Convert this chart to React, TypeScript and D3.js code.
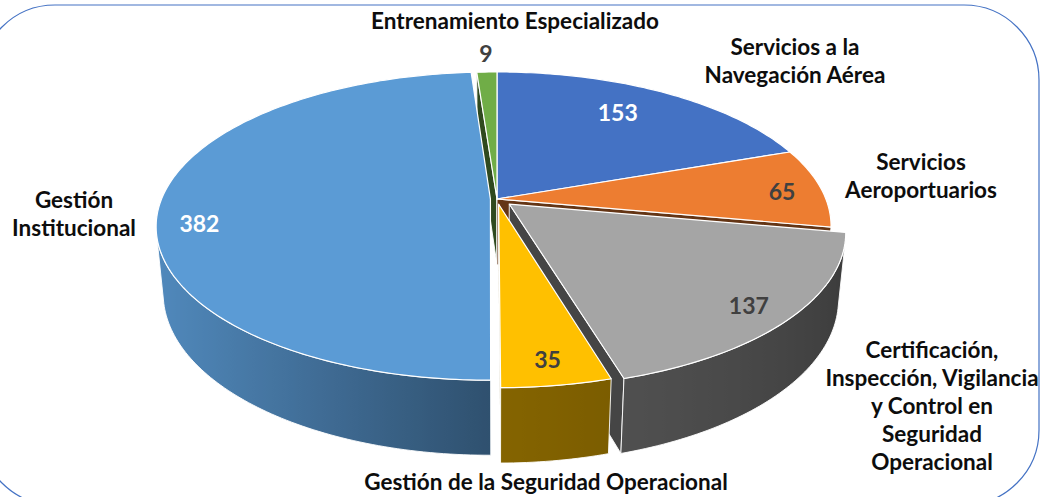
import React from 'react';
import * as d3 from 'd3';

// chart data
const categories = [
  'Servicios a la Navegación Aérea',
  'Servicios Aeroportuarios',
  'Certificación, Inspección, Vigilancia y Control en Seguridad Operacional',
  'Gestión de la Seguridad Operacional',
  'Gestión Institucional',
  'Entrenamiento Especializado',
];
const values = [153, 65, 137, 35, 382, 9];
const labelLines = [
  ['Servicios a la', 'Navegación Aérea'],
  ['Servicios', 'Aeroportuarios'],
  ['Certificación,', 'Inspección, Vigilancia', 'y Control en', 'Seguridad', 'Operacional'],
  ['Gestión de la Seguridad Operacional'],
  ['Gestión', 'Institucional'],
  ['Entrenamiento Especializado'],
];

// styling / layout
const colors = ['#4472C4', '#ED7D31', '#A5A5A5', '#FFC000', '#5B9BD5', '#70AD47'];
const valueColors = ['#ffffff', '#404040', '#404040', '#404040', '#ffffff', '#404040'];
const explode = [0, 0, 0.05, 0.035, 0.02, 0];
const valueRadius = [0.7, 0.88, 0.87, 0.865, 0.88, 1.1];
const valueDy = [-9, 2, 3, 2, 19, -8];
const catPos = [
  [795, 55],
  [921, 170],
  [932, 358],
  [546, 490],
  [74, 208],
  [515, 29],
];

const W = 1041;
const H = 497;
const CX = 497;
const CY = 199;
const TILT = (27 * Math.PI) / 180;
const DIST = 5.084;
const FOCAL = 1672;
const THICK = 0.229;
const cosT = Math.cos(TILT);
const sinT = Math.sin(TILT);
const CAM: [number, number, number] = [0, DIST * sinT, -DIST * cosT];

type P3 = [number, number, number];

const project = (p: P3): [number, number] => {
  const d = DIST + p[2] * cosT - p[1] * sinT;
  const up = p[1] * cosT + p[2] * sinT;
  return [CX + (FOCAL * p[0]) / d, CY - (FOCAL * up) / d];
};
const depth = (p: P3) => DIST + p[2] * cosT - p[1] * sinT;

const shade = (color: string, f: number) => {
  const c = d3.rgb(color);
  return d3.rgb(c.r * f, c.g * f, c.b * f).formatHex();
};

const wallFactor = (a: number) => {
  let deg = ((a * 180) / Math.PI) % 360;
  if (deg < 0) deg += 360;
  if (deg <= 180) return 0.52 - ((180 - deg) / 90) * 0.2;
  return 0.52 + 0.36 * Math.sin(Math.min(1, (deg - 180) / 77) * (Math.PI / 2));
};

const line2 = d3.line<[number, number]>();

export default function App() {
  const arcs = d3.pie<number>().sort(null).value((d) => d)(values);

  const faces: { key: string; d: string; fill: string; depth: number }[] = [];
  const tops: { key: string; d: string; fill: string }[] = [];
  const grads: { id: string; x1: number; x2: number; stops: { off: number; color: string }[] }[] = [];
  const valueLabels: { key: string; x: number; y: number; text: string; color: string }[] = [];

  arcs.forEach((arc, i) => {
    const a0 = arc.startAngle;
    const a1 = arc.endAngle;
    const mid = (a0 + a1) / 2;
    const ox = explode[i] * Math.sin(mid);
    const oz = explode[i] * Math.cos(mid);
    const rim = (a: number, y: number): P3 => [ox + Math.sin(a), y, oz + Math.cos(a)];
    const apex = (y: number): P3 => [ox, y, oz];
    const n = Math.max(2, Math.ceil((a1 - a0) / (Math.PI / 180)));
    const angles = d3.range(n + 1).map((k) => a0 + ((a1 - a0) * k) / n);

    // top face
    const topPts = [apex(0), ...angles.map((a) => rim(a, 0))].map(project);
    tops.push({ key: `top${i}`, d: line2(topPts) + 'Z', fill: colors[i] });

    // outer wall, front facing part only
    const vis = angles.map(
      (a) => -Math.sin(a) * ox - Math.cos(a) * oz - 1 - DIST * cosT * Math.cos(a) > 0
    );
    let run: number[] = [];
    const runs: number[][] = [];
    vis.forEach((v, k) => {
      if (v) run.push(angles[k]);
      else if (run.length) {
        runs.push(run);
        run = [];
      }
    });
    if (run.length) runs.push(run);
    runs
      .filter((r) => r.length > 1)
      .forEach((r, ri) => {
        const topRow = r.map((a) => project(rim(a, 0)));
        const botRow = r.map((a) => project(rim(a, -THICK))).reverse();
        const xs = topRow.map((p) => p[0]);
        const x1 = d3.min(xs) as number;
        const x2 = d3.max(xs) as number;
        const id = `wall${i}_${ri}`;
        const stops = r
          .map((a, k) => ({
            off: x2 > x1 ? (topRow[k][0] - x1) / (x2 - x1) : 0,
            color: shade(colors[i], wallFactor(a)),
          }))
          .sort((p, q) => p.off - q.off);
        grads.push({ id, x1, x2, stops });
        const dm = d3.mean(r, (a) => depth(rim(a, -THICK / 2))) as number;
        faces.push({ key: id, d: line2([...topRow, ...botRow]) + 'Z', fill: `url(#${id})`, depth: dm });
      });

    // cut faces
    const cuts: { a: number; nrm: P3 }[] = [
      { a: a0, nrm: [-Math.cos(a0), 0, Math.sin(a0)] },
      { a: a1, nrm: [Math.cos(a1), 0, -Math.sin(a1)] },
    ];
    cuts.forEach((c, ci) => {
      const pts: P3[] = [apex(0), rim(c.a, 0), rim(c.a, -THICK), apex(-THICK)];
      const cen: P3 = [
        d3.mean(pts, (p) => p[0]) as number,
        d3.mean(pts, (p) => p[1]) as number,
        d3.mean(pts, (p) => p[2]) as number,
      ];
      const dot =
        c.nrm[0] * (CAM[0] - cen[0]) + c.nrm[1] * (CAM[1] - cen[1]) + c.nrm[2] * (CAM[2] - cen[2]);
      if (dot <= 0) return;
      faces.push({
        key: `cut${i}_${ci}`,
        d: line2(pts.map(project)) + 'Z',
        fill: shade(colors[i], 0.42),
        depth: depth(cen),
      });
    });

    const lp = project([ox + valueRadius[i] * Math.sin(mid), 0, oz + valueRadius[i] * Math.cos(mid)]);
    valueLabels.push({ key: `v${i}`, x: lp[0], y: lp[1] + valueDy[i], text: String(values[i]), color: valueColors[i] });
  });

  faces.sort((a, b) => b.depth - a.depth);

  const font = "Lato, 'Open Sans', sans-serif";

  return (
    <svg width={W} height={H} style={{ position: 'absolute', left: 0, top: 0, background: '#fff' }}>
      <defs>
        {grads.map((g) => (
          <linearGradient key={g.id} id={g.id} gradientUnits="userSpaceOnUse" x1={g.x1} x2={g.x2} y1={0} y2={0}>
            {g.stops.map((s, k) => (
              <stop key={k} offset={s.off} stopColor={s.color} />
            ))}
          </linearGradient>
        ))}
      </defs>
      <rect x={-20} y={5} width={1059} height={500} rx={75} ry={75} fill="none" stroke="#4472C4" strokeWidth={1.2} />
      <g strokeLinejoin="round">
        {faces.map((f) => (
          <path key={f.key} d={f.d} fill={f.fill} stroke="#ffffff" strokeWidth={0.9} />
        ))}
        {tops.map((t) => (
          <path key={t.key} d={t.d} fill={t.fill} stroke="#ffffff" strokeWidth={1.2} />
        ))}
      </g>
      <g fontFamily={font} fontWeight={700} fontSize={23} textAnchor="middle">
        {valueLabels.map((v) => (
          <text key={v.key} x={v.x} y={v.y} fill={v.color} dominantBaseline="central">
            {v.text}
          </text>
        ))}
      </g>
      <g fontFamily={font} fontWeight={700} fontSize={22.5} textAnchor="middle" fill="#0d0d0d">
        {labelLines.map((lines, i) => (
          <text key={`c${i}`} x={catPos[i][0]} y={catPos[i][1]} aria-label={categories[i]}>
            {lines.map((ln, k) => (
              <tspan key={k} x={catPos[i][0]} dy={k === 0 ? 0 : 28}>
                {ln}
              </tspan>
            ))}
          </text>
        ))}
      </g>
    </svg>
  );
}
